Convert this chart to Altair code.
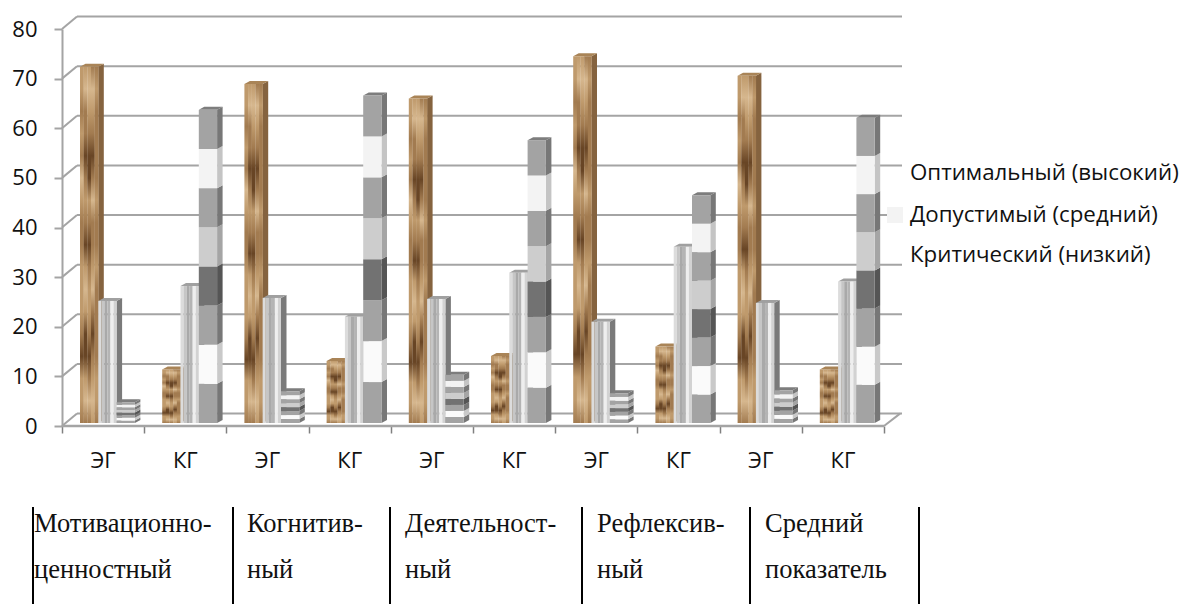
import altair as alt
import pandas as pd

# ---- values ----
group_labels = ["ЭГ", "КГ"] * 5
optimal = [71.8, 10.8, 68.3, 12.5, 65.4, 13.5, 73.9, 15.4, 70.0, 10.8]      # brown bars
middle = [24.6, 27.6, 25.2, 21.4, 25.0, 30.3, 20.4, 35.5, 24.2, 28.5]       # striped bars
critical = [4.2, 63.1, 6.4, 66.0, 9.7, 57.0, 6.0, 45.9, 6.6, 61.5]          # banded bars
y_ticks = [0, 10, 20, 30, 40, 50, 60, 70, 80]
x_ticks = [0, 1, 2, 3, 4, 5, 6, 7, 8, 9, 10]
legend_items = ["Оптимальный (высокий)", "Допустимый (средний)", "Критический (низкий)"]
table_cells = [
    ["Мотивационно-", "ценностный"],
    ["Когнитив-", "ный"],
    ["Деятельност-", "ный"],
    ["Рефлексив-", "ный"],
    ["Средний", "показатель"],
]
table_text_px = [34, 247, 405, 597, 765]
table_line_px = [33, 233, 390, 582, 750, 919]

# ---- styling ----
band_front = ["#a3a3a3", "#fafafa", "#a3a3a3", "#727272", "#cdcdcd", "#a3a3a3", "#f3f3f3", "#a3a3a3"]
band_side = ["#777777", "#c9c9c9", "#777777", "#555555", "#a5a5a5", "#777777", "#c4c4c4", "#777777"]
stripe_cols = ["#dcdcdc", "#c6c6c6", "#a9a9a9", "#b4b4b4", "#eeeeee", "#d2d2d2"]
tones = {"l": "#d6b78e", "t": "#bf9a6c", "m": "#a27b50", "d": "#684525"}
brown_cols = [
    "ttmtmltmmtttmdttm",
    "tlmmdmtmdtltddtlm",
    "tltmddtmdmttmdmlm",
    "mltmdmlmmtlmdmtlt",
    "mtmmmmtmmtmmmmttm",
]
GRID = "#a4a4a4"

W_PX, H_PX = 822, 397
PX_X = 10 / W_PX
PX_Y = 80 / H_PX
DX, DY = 5.5 * PX_X, 3 * PX_Y
BASE = 3 * PX_Y
BAR = 18.3 * PX_X
START = 18 * PX_X

xs = alt.Scale(domain=[0, 10], nice=False, zero=False)
ys = alt.Scale(domain=[0, 80], nice=False, zero=False)
x_axis = alt.Axis(values=x_ticks, labels=False, title=None, grid=False, tickSize=7, tickColor="#808080",
                  tickWidth=1.5, domain=False)
y_axis = alt.Axis(values=y_ticks, title=None, grid=False, tickSize=8, tickColor=GRID, tickWidth=2,
                  domainColor=GRID, domainWidth=2, labelPadding=17, labelFont="Open Sans", labelFontSize=22,
                  labelColor="#111111")
X = alt.X("x:Q", scale=xs, axis=x_axis)
Y = alt.Y("y:Q", scale=ys, axis=y_axis)
COL = alt.Color("c:N", scale=None, legend=None)


def px_x(p):
    return (p - 62) * PX_X


def px_y(p):
    return (426 - p) * PX_Y


def rects(rows):
    return alt.Chart(pd.DataFrame(rows)).mark_rect().encode(x=X, x2="x2:Q", y=Y, y2="y2:Q", color=COL)


def areas(rows):
    return alt.Chart(pd.DataFrame(rows)).mark_area(interpolate="linear").encode(
        x=X, y=Y, y2="y2:Q", color=COL, detail="id:N")


def side_rows(x0, lo, hi, colour, key):
    xr = x0 + BAR
    return [
        dict(x=xr, y=hi, y2=lo, c=colour, id=key),
        dict(x=xr + DX, y=hi + DY, y2=lo + DY, c=colour, id=key),
    ]


def cap_rows(x0, top, colour, key):
    return [
        dict(x=x0, y=top, y2=top, c=colour, id=key),
        dict(x=x0 + DX, y=top + DY, y2=top, c=colour, id=key),
        dict(x=x0 + BAR, y=top + DY, y2=top, c=colour, id=key),
        dict(x=x0 + BAR + DX, y=top + DY, y2=top + DY, c=colour, id=key),
    ]


layers = []

# walls: back grid lines and slanted wall segments
back_dx, back_dy = 15 * PX_X, 12.4 * PX_Y
grid_rows = []
for v in y_ticks:
    grid_rows += [dict(x=back_dx, y=v + back_dy, id=f"b{v}"), dict(x=px_x(902), y=v + back_dy, id=f"b{v}")]
    grid_rows += [dict(x=0, y=v, id=f"s{v}"), dict(x=back_dx, y=v + back_dy, id=f"s{v}")]
grid_rows += [dict(x=10, y=0, id="e"), dict(x=px_x(900), y=back_dy, id="e")]
layers.append(alt.Chart(pd.DataFrame(grid_rows)).mark_line(color=GRID, strokeWidth=2).encode(x=X, y=Y, detail="id:N"))

# front floor edge
axis_df = pd.DataFrame({"x": [0, 10], "y": [0, 0]})
layers.append(alt.Chart(axis_df).mark_line(color=GRID, strokeWidth=2.5).encode(x=X, y=Y))

# brown bars
brown_side, brown_cap = [], []
for i, v in enumerate(optimal):
    x0 = i + START
    brown_side += side_rows(x0, BASE, BASE + v, "#85633f", f"bs{i}")
    brown_cap += cap_rows(x0, BASE + v, "#a98457", f"bc{i}")
layers += [areas(brown_side), areas(brown_cap)]
n_cols = len(brown_cols)
for k, pattern in enumerate(brown_cols):
    rows = []
    for i, v in enumerate(optimal):
        x0 = i + START
        rows.append(dict(x=x0 + BAR * k / n_cols, x2=x0 + BAR * (k + 1) / n_cols + 0.2 * PX_X,
                         y=BASE, y2=BASE + v))
    gradient = alt.LinearGradient(
        gradient="linear", x1=0, x2=0, y1=0, y2=1,
        stops=[alt.GradientStop(offset=j / (len(pattern) - 1), color=tones[ch]) for j, ch in enumerate(pattern)],
    )
    layers.append(alt.Chart(pd.DataFrame(rows)).mark_rect(color=gradient).encode(x=X, x2="x2:Q", y=Y, y2="y2:Q"))

# striped bars
st_side, st_cap, st_front = [], [], []
for i, v in enumerate(middle):
    x0 = i + START + BAR
    st_side += side_rows(x0, BASE, BASE + v, "#7a7a7a", f"ss{i}")
    st_cap += cap_rows(x0, BASE + v, "#a0a0a0", f"sc{i}")
    for k, colour in enumerate(stripe_cols):
        st_front.append(dict(x=x0 + BAR * k / len(stripe_cols), x2=x0 + BAR * (k + 1) / len(stripe_cols),
                             y=BASE, y2=BASE + v, c=colour))
layers += [areas(st_side), areas(st_cap), rects(st_front)]

# banded bars
bd_side, bd_cap, bd_front = [], [], []
for i, v in enumerate(critical):
    x0 = i + START + 2 * BAR
    step = v / len(band_front)
    for k, (front, side) in enumerate(zip(band_front, band_side)):
        lo, hi = BASE + k * step, BASE + (k + 1) * step
        bd_side += side_rows(x0, lo, hi, side, f"ds{i}_{k}")
        bd_front.append(dict(x=x0, x2=x0 + BAR, y=lo, y2=hi, c=front))
    bd_cap += cap_rows(x0, BASE + v, "#7d7d7d", f"dc{i}")
layers += [areas(bd_side), areas(bd_cap), rects(bd_front)]

# category labels under the axis
cat_df = pd.DataFrame({"x": [i + 0.5 for i in range(10)], "y": [px_y(461)] * 10, "t": group_labels})
layers.append(alt.Chart(cat_df).mark_text(font="Open Sans", fontSize=22, color="#111111", baseline="middle").encode(
    x=X, y=Y, text="t:N"))

# legend at the right
swatch = pd.DataFrame([dict(x=px_x(887), x2=px_x(903), y=px_y(223), y2=px_y(207), c="#f3f3f3")])
layers.append(rects(swatch))
leg_df = pd.DataFrame({"x": [px_x(910)] * 3, "y": [px_y(173), px_y(215), px_y(255)], "t": legend_items})
layers.append(alt.Chart(leg_df).mark_text(font="Open Sans", fontSize=22.3, color="#111111", align="left",
                                          baseline="middle").encode(x=X, y=Y, text="t:N"))

# table under the chart
line_rows = [dict(x=px_x(p), y=px_y(507), y2=px_y(604)) for p in table_line_px]
layers.append(alt.Chart(pd.DataFrame(line_rows)).mark_rule(color="#000000", strokeWidth=2).encode(
    x=X, y=Y, y2="y2:Q"))
cell_rows = []
for p, cell in zip(table_text_px, table_cells):
    cell_rows.append(dict(x=px_x(p), y=px_y(531.5), t=cell[0]))
    cell_rows.append(dict(x=px_x(p), y=px_y(577.5), t=cell[1]))
layers.append(alt.Chart(pd.DataFrame(cell_rows)).mark_text(
    font="Liberation Serif", fontSize=26.5, color="#111111", align="left", baseline="alphabetic").encode(
    x=X, y=Y, text="t:N"))

chart = alt.layer(*layers).properties(
    width=W_PX, height=H_PX,
    autosize=alt.AutoSizeParams(type="none"),
    padding={"left": 54, "top": 21, "right": 296, "bottom": 178},
).configure_view(stroke=None)

chart.save("out.html", embed_options={"renderer": "svg", "actions": False})
